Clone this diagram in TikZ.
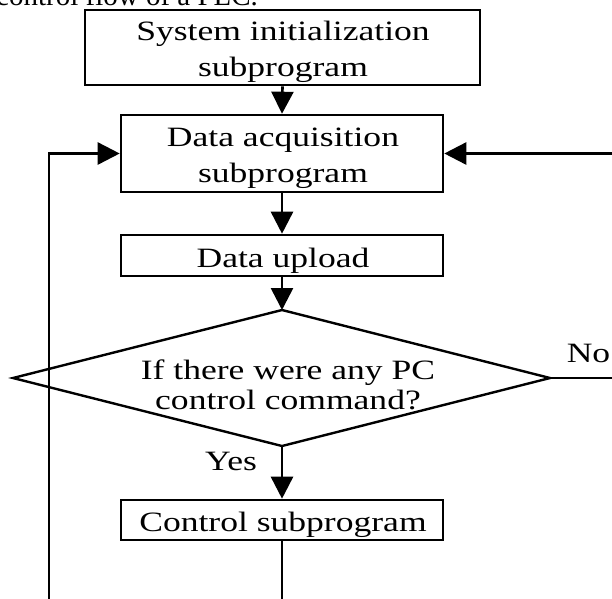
\documentclass[tikz,border=0pt]{standalone}
\usepackage{fontspec}
\setmainfont{Liberation Serif}[FakeStretch=1.27]
\newfontfamily\capfont{Liberation Serif}
\usetikzlibrary{arrows.meta}
\tikzset{
  box/.style={draw, line width=2.6pt, inner sep=0pt},
  btxt/.style={inner sep=0pt, align=center, font=\fontsize{28}{36}\selectfont},
  txt/.style={inner sep=0pt, align=center, font=\fontsize{28}{30}\selectfont},
  lbl/.style={inner sep=0pt, font=\fontsize{28}{30}\selectfont},
  arr/.style={line width=2.6pt, -{Triangle[length=22pt,width=22pt]}},
}
\begin{document}
\begin{tikzpicture}[x=1pt, y=-1pt]
\path[use as bounding box, clip] (0,0) rectangle (612,598);
\fill[white] (0,0) rectangle (612,598);
\node[anchor=base west, inner sep=0pt, font=\capfont\fontsize{29}{30}\selectfont] (cap) at (-4,5) {control flow of a PLC.};
\node[box, minimum width=395pt, minimum height=75pt] (b1) at (282.5,47.5) {};
\node[btxt] (t1) at (283,51.5) {System initialization\\subprogram};
\node[box, minimum width=322pt, minimum height=77pt] (b2) at (282,153.5) {};
\node[btxt] (t2) at (283,158.5) {Data acquisition\\subprogram};
\node[box, minimum width=322pt, minimum height=41pt] (b3) at (282,255.5) {};
\node[btxt] (t3) at (283,260.5) {Data upload};
\coordinate (dT) at (282,310);
\coordinate (dR) at (550,378);
\coordinate (dB) at (282,446);
\coordinate (dL) at (13,378);
\draw[line width=2.4pt, line join=miter] (dT) -- (dR) -- (dB) -- (dL) -- cycle;
\node[txt] (dq) at (288,385) {If there were any PC\\control command?};
\node[box, minimum width=322pt, minimum height=40pt] (b4) at (282,520) {};
\node[btxt] (t4) at (283,525) {Control subprogram};
\node[lbl] (yes) at (231,461) {Yes};
\node[lbl] (no) at (588.5,353) {No};
\coordinate (rT) at (640,153.5);
\coordinate (rB) at (640,378);
\coordinate (bB) at (282,640);
\coordinate (lB) at (49,640);
\coordinate (lT) at (49,153.5);
\draw[arr] (b1.south) -- (b2.north);
\draw[arr] (b2.south) -- (b3.north);
\draw[arr] (b3.south) -- (dT);
\draw[arr] (dB) -- (b4.north);
\draw[arr] (dR) -- (rB) -- (rT) -- (b2.east);
\draw[arr] (b4.south) -- (bB) -- (lB) -- (lT) -- (b2.west);
\end{tikzpicture}
\end{document}
